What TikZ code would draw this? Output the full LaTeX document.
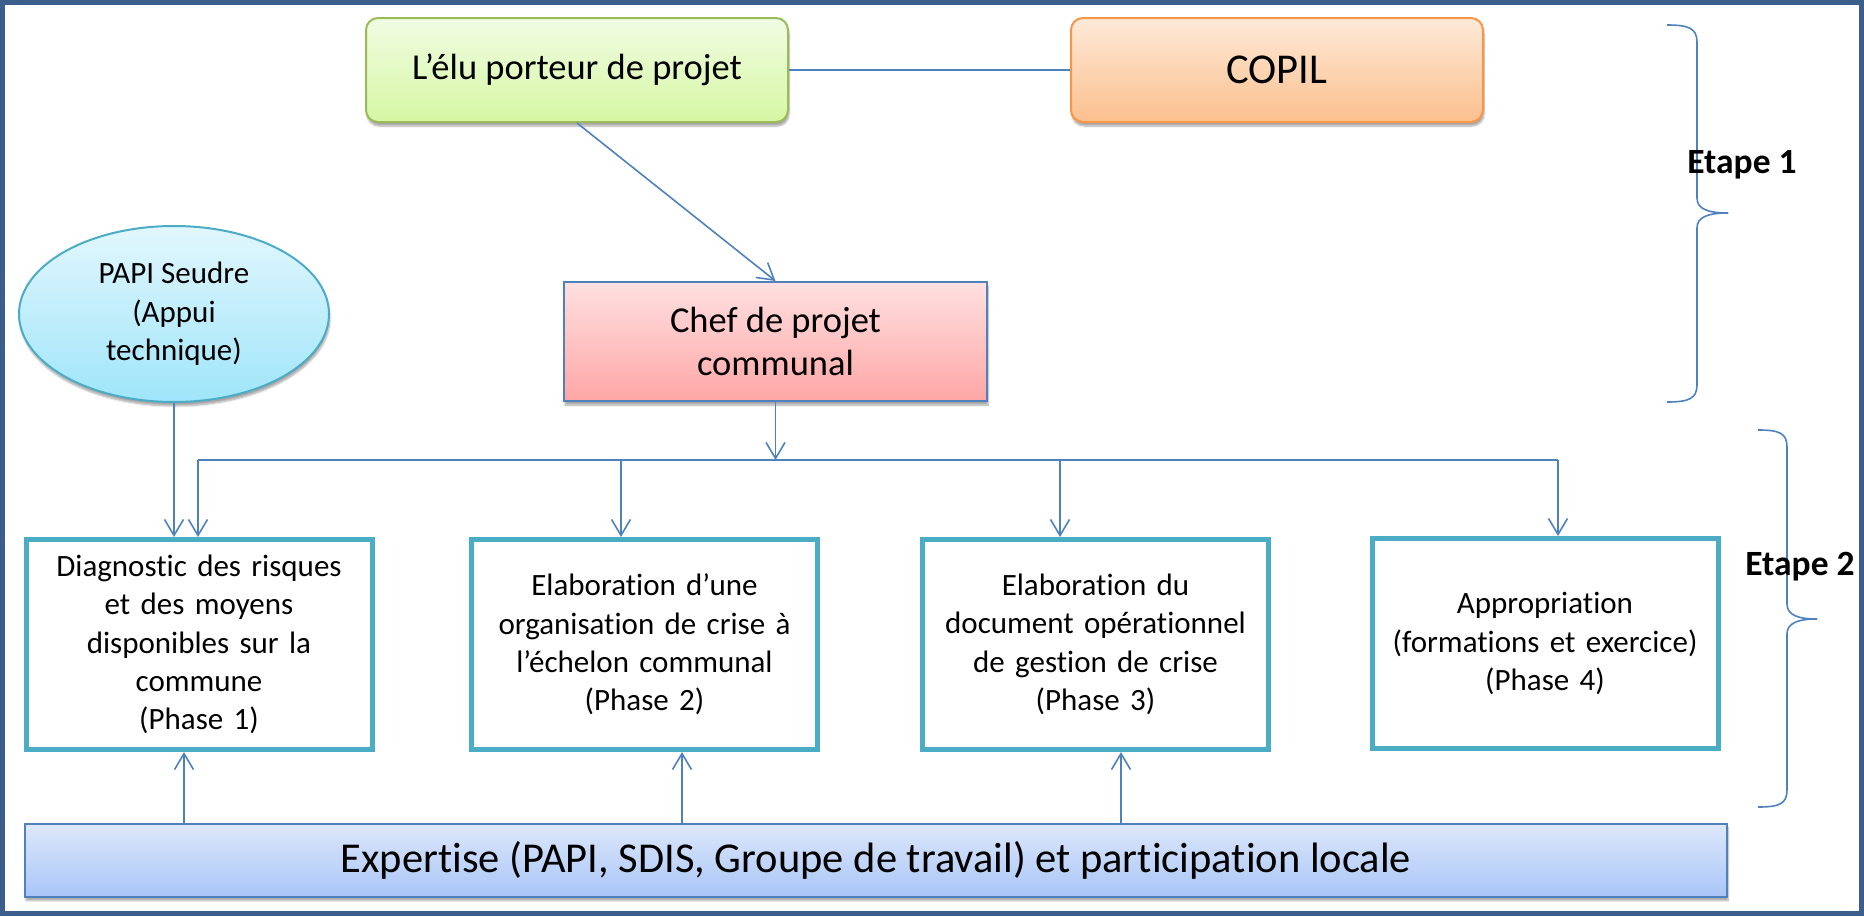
\documentclass[tikz,border=0pt]{standalone}
\usepackage{fontspec}
\setmainfont{Carlito}[Ligatures=NoCommon]
\usetikzlibrary{arrows.meta,shapes.geometric,shadows.blur}
\definecolor{lineblue}{HTML}{4F81BD}
\definecolor{boxteal}{HTML}{4BACC6}
\definecolor{framecol}{HTML}{3B5E8C}
\definecolor{greenborder}{HTML}{9BBB59}
\definecolor{greentop}{HTML}{F1FCE3}
\definecolor{greenbot}{HTML}{D6F7A4}
\definecolor{orangeborder}{HTML}{F79646}
\definecolor{orangetop}{HTML}{FDE9D8}
\definecolor{orangebot}{HTML}{FCC08E}
\definecolor{pinktop}{HTML}{FFE0E0}
\definecolor{pinkbot}{HTML}{FFA6A6}
\definecolor{cyantop}{HTML}{E2F7FD}
\definecolor{cyanbot}{HTML}{9FE5FA}
\definecolor{bluetop}{HTML}{DDE8FB}
\definecolor{bluebot}{HTML}{A9C5F7}
\begin{document}
\begin{tikzpicture}[x=1pt,y=-1pt,
  conn/.style={draw=lineblue, line width=1.6pt},
  arr/.style={conn, -{Straight Barb[length=16pt,width=19pt]}},
  shad/.style={blur shadow={shadow xshift=1pt, shadow yshift=-4pt, shadow blur steps=6, shadow opacity=35}},
  topbox/.style={rounded corners=12pt, line width=2pt, minimum width=422pt, minimum height=104pt, inner sep=0pt, shad},
  phase/.style={draw=boxteal, line width=5pt, fill=white, minimum width=346pt, minimum height=210pt, inner sep=0pt, text width=330pt, align=center, font=\fontsize{31}{38.3}\selectfont},
  brace/.style={draw=lineblue, line width=1.6pt},
  etape/.style={font=\bfseries\fontsize{35.5}{42}\selectfont}
]
\useasboundingbox (0,0) rectangle (1864,916);
\draw[framecol, line width=5pt] (2.5,2.5) rectangle (1861.5,913.5);

% top row
\node[topbox, draw=greenborder, top color=greentop, bottom color=greenbot,
      font=\fontsize{36.5}{43}\selectfont] (elu) at (577,70) {L’élu porteur de projet};
\node[topbox, draw=orangeborder, top color=orangetop, bottom color=orangebot,
      minimum width=412pt, font=\fontsize{42.5}{50}\selectfont] (copil) at (1277,70) {COPIL};

% chef
\node[draw=lineblue, line width=2pt, top color=pinktop, bottom color=pinkbot, shad,
      minimum width=423pt, minimum height=119pt, inner sep=0pt, align=center,
      font=\fontsize{36.5}{43}\selectfont] (chef) at (775.5,341.5) {Chef de projet\\communal};

% PAPI
\node[ellipse, draw=boxteal, line width=2pt, top color=cyantop, bottom color=cyanbot, shad,
      minimum width=310pt, minimum height=176pt, inner sep=0pt, align=center,
      font=\fontsize{31}{38.5}\selectfont] (papi) at (174,314) {PAPI Seudre\\(Appui\\technique)};

% phases
\node[phase] (b1) at (199,644.5) {Diagnostic des risques\\et des moyens\\disponibles sur la\\commune\\(Phase 1)};
\node[phase] (b2) at (644.5,644.5) {Elaboration d’une\\organisation de crise à\\l’échelon communal\\(Phase 2)};
\node[phase] (b3) at (1095.5,644.5) {Elaboration du\\document opérationnel\\de gestion de crise\\(Phase 3)};
\node[phase] (b4) at (1545,643.5) {Appropriation\\(formations et exercice)\\(Phase 4)};

% expertise
\node[draw=lineblue, line width=2pt, top color=bluetop, bottom color=bluebot, shad,
      minimum width=1702pt, minimum height=73pt, inner sep=0pt,
      font=\fontsize{42.5}{50}\selectfont] (exp) at (876,860) {Expertise (PAPI, SDIS, Groupe de travail) et participation locale};

% connectors
\draw[conn] (elu.east) -- (copil.west);
\draw[arr] (elu.south) -- (chef.north);
\coordinate (bus) at (775.5,460);
\coordinate (busL) at (198,460);
\coordinate (busR) at (1558,460);
\coordinate (t2) at (621,460);
\coordinate (t3) at (1060,460);
\draw[arr] (chef.south) -- (bus);
\draw[conn] (busL) -- (busR);
\draw[arr] (busL) -- (busL |- b1.north);
\draw[arr] (t2) -- (t2 |- b2.north);
\draw[arr] (t3) -- (t3 |- b3.north);
\draw[arr] (busR) -- (busR |- b4.north);
\draw[arr] (papi.south) -- (papi.south |- b1.north);

\coordinate (u1) at (184,0);
\coordinate (u2) at (682,0);
\coordinate (u3) at (1121,0);
\draw[arr] (exp.north -| u1) -- (b1.south -| u1);
\draw[arr] (exp.north -| u2) -- (b2.south -| u2);
\draw[arr] (exp.north -| u3) -- (b3.south -| u3);

% braces
\draw[brace] (1667,25) .. controls (1688,25) and (1697,28) .. (1697,42) -- (1697,198) .. controls (1697,209) and (1708,213) .. (1728,213);
\draw[brace] (1728,213) .. controls (1708,213) and (1697,217) .. (1697,228) -- (1697,385) .. controls (1697,399) and (1688,402) .. (1667,402);
\draw[brace] (1758,430) .. controls (1779,430) and (1787,433) .. (1787,447) -- (1787,604) .. controls (1787,615) and (1798,619) .. (1817,619);
\draw[brace] (1817,619) .. controls (1798,619) and (1787,623) .. (1787,634) -- (1787,790) .. controls (1787,804) and (1779,807) .. (1758,807);

\node[etape] (et1) at (1742,165) {Etape 1};
\node[etape] (et2) at (1800,567) {Etape 2};
\end{tikzpicture}
\end{document}
